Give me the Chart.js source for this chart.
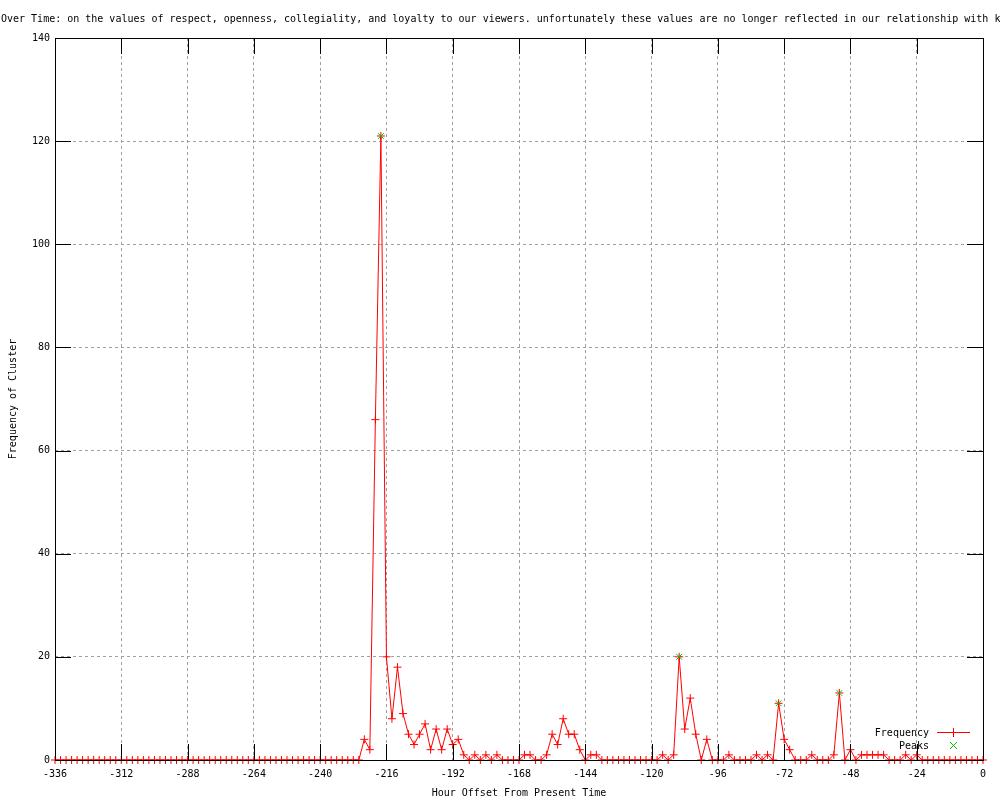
<!DOCTYPE html>
<html>
<head>
<meta charset="utf-8">
<script src="https://cdn.jsdelivr.net/npm/chart.js@4.4.1/dist/chart.umd.min.js"></script>
<style>
  body { margin: 0; background: #fff; }
  canvas { display: block; }
</style>
</head>
<body>
<canvas id="clusterChart" width="1000" height="800"></canvas>
<script>
// hours run from -336 to 0 in steps of 2
const hourStart = -336;
const hourStep = 2;

const frequency = [
  0, 0, 0, 0, 0, 0, 0, 0, 0, 0, 0, 0, 0, 0, 0, 0, 0, 0, 0, 0,
  0, 0, 0, 0, 0, 0, 0, 0, 0, 0, 0, 0, 0, 0, 0, 0, 0, 0, 0, 0,
  0, 0, 0, 0, 0, 0, 0, 0, 0, 0, 0, 0, 0, 0, 0, 0,
  4, 2, 66, 121, 20, 8, 18, 9, 5, 3, 5, 7, 2, 6, 2, 6, 3, 4, 1, 0,
  1, 0, 1, 0, 1, 0, 0, 0, 0, 1, 1, 0, 0, 1, 5, 3, 8, 5, 5, 2,
  0, 1, 1, 0, 0, 0, 0, 0, 0, 0, 0, 0, 0, 0, 1, 0, 1, 20, 6, 12,
  5, 0, 4, 0, 0, 0, 1, 0, 0, 0, 0, 1, 0, 1, 0, 11, 4, 2, 0, 0,
  0, 1, 0, 0, 0, 1, 13, 0, 2, 0, 1, 1, 1, 1, 1, 0, 0, 0, 1, 0,
  1, 0, 0, 0, 0, 0, 0, 0, 0, 0, 0, 0, 0
];

const peakHours = [-218, -110, -74, -52];
const peakValues = [121, 20, 11, 13];

const xTicks = [-336, -312, -288, -264, -240, -216, -192, -168, -144, -120, -96, -72, -48, -24, 0];
const yTicks = [0, 20, 40, 60, 80, 100, 120, 140];

const titleText = "Over Time: on the values of respect, openness, collegiality, and loyalty to our viewers. unfortunately these values are no longer reflected in our relationship with ke";
const xTitle = "Hour Offset From Present Time";
const yTitle = "Frequency of Cluster";

const FONT = '"DejaVu Sans Mono", "Liberation Mono", monospace';
const RED = "#ff0000";
const GREEN = "#00c000";

const freqPoints = frequency.map((v, i) => ({ x: hourStart + i * hourStep, y: v }));
const peakPoints = peakHours.map((h, i) => ({ x: h, y: peakValues[i] }));

// border, inward ticks, titles and the small legend, gnuplot style
const decorPlugin = {
  id: "decor",
  afterDatasetsDraw(chart) {
    const ctx = chart.ctx;
    const a = chart.chartArea;
    const xs = chart.scales.x;
    const ys = chart.scales.y;
    const tick = 16;
    ctx.save();
    ctx.setLineDash([]);
    ctx.strokeStyle = "#000";
    ctx.lineWidth = 1;
    ctx.beginPath();
    xTicks.forEach((t) => {
      const px = Math.round(xs.getPixelForValue(t)) + 0.5;
      ctx.moveTo(px, a.bottom);
      ctx.lineTo(px, a.bottom - tick);
      ctx.moveTo(px, a.top);
      ctx.lineTo(px, a.top + tick);
    });
    yTicks.forEach((t) => {
      const py = Math.round(ys.getPixelForValue(t)) + 0.5;
      ctx.moveTo(a.left, py);
      ctx.lineTo(a.left + tick, py);
      ctx.moveTo(a.right, py);
      ctx.lineTo(a.right - tick, py);
    });
    ctx.stroke();
    ctx.strokeRect(Math.round(a.left) + 0.5, Math.round(a.top) + 0.5,
      Math.round(a.right - a.left), Math.round(a.bottom - a.top));
    ctx.restore();
  },
  afterDraw(chart) {
    const ctx = chart.ctx;
    const a = chart.chartArea;
    ctx.save();
    ctx.setLineDash([]);
    ctx.lineWidth = 1;
    ctx.fillStyle = "#000";
    ctx.font = "10px " + FONT;
    ctx.textBaseline = "middle";

    ctx.textAlign = "left";
    ctx.fillText(titleText, 1, 19);

    ctx.textAlign = "center";
    ctx.fillText(xTitle, (a.left + a.right) / 2, 793);

    ctx.save();
    ctx.translate(13, (a.top + a.bottom) / 2);
    ctx.rotate(-Math.PI / 2);
    ctx.fillText(yTitle, 0, 0);
    ctx.restore();

    // legend
    ctx.textAlign = "right";
    ctx.fillText("Frequency", 929, 733);
    ctx.fillText("Peaks", 929, 746);
    ctx.strokeStyle = RED;
    ctx.beginPath();
    ctx.moveTo(937, 732.5);
    ctx.lineTo(970, 732.5);
    ctx.moveTo(953.5, 728);
    ctx.lineTo(953.5, 737);
    ctx.stroke();
    ctx.strokeStyle = GREEN;
    ctx.beginPath();
    ctx.moveTo(950, 742);
    ctx.lineTo(957, 749);
    ctx.moveTo(957, 742);
    ctx.lineTo(950, 749);
    ctx.stroke();
    ctx.restore();
  }
};

function initializeChart() {
  const ctx = document.getElementById("clusterChart").getContext("2d");
  Chart.defaults.font.family = FONT;
  Chart.defaults.font.size = 10;
  Chart.defaults.color = "#000";

  new Chart(ctx, {
    type: "line",
    data: {
      datasets: [
        {
          label: "Frequency",
          data: freqPoints,
          borderColor: RED,
          backgroundColor: RED,
          borderWidth: 1,
          pointStyle: "cross",
          pointRadius: 4,
          pointBorderWidth: 1,
          tension: 0,
          clip: false,
          order: 2,
        },
        {
          label: "Peaks",
          data: peakPoints,
          showLine: false,
          borderColor: GREEN,
          backgroundColor: GREEN,
          pointStyle: "crossRot",
          pointRadius: 4,
          pointBorderWidth: 1,
          clip: false,
          order: 1,
        },
      ],
    },
    options: {
      responsive: false,
      animation: false,
      layout: {
        padding: { top: 38, right: 17, left: 0, bottom: 0 },
      },
      scales: {
        x: {
          type: "linear",
          min: -336,
          max: 0,
          afterFit: (scale) => { scale.height = 40; },
          afterBuildTicks: (scale) => { scale.ticks = xTicks.map((v) => ({ value: v })); },
          ticks: {
            padding: 8,
            maxRotation: 0,
            autoSkip: false,
            callback: (v) => String(v),
          },
          grid: {
            color: "#a0a0a0",
            lineWidth: 1,
            drawTicks: false,
          },
          border: { display: false, dash: [3, 3] },
        },
        y: {
          min: 0,
          max: 140,
          afterFit: (scale) => { scale.width = 55; },
          afterBuildTicks: (scale) => { scale.ticks = yTicks.map((v) => ({ value: v })); },
          ticks: {
            padding: 5,
            callback: (v) => String(v),
          },
          grid: {
            color: "#a0a0a0",
            lineWidth: 1,
            drawTicks: false,
          },
          border: { display: false, dash: [3, 3] },
        },
      },
      plugins: {
        legend: { display: false },
        tooltip: { enabled: false },
        title: { display: false },
      },
    },
    plugins: [decorPlugin],
  });
}

window.onload = function () {
  initializeChart();
};
</script>
</body>
</html>
